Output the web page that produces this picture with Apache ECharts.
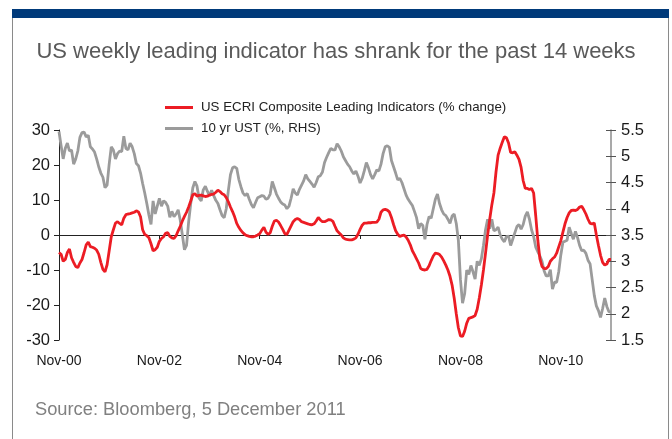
<!DOCTYPE html>
<html>
<head>
<meta charset="utf-8">
<script src="https://cdn.jsdelivr.net/npm/echarts@6/dist/echarts.min.js"></script>
<style>
  html, body { margin: 0; padding: 0; background: #fff; }
  #chart { width: 672px; height: 439px; }
</style>
</head>
<body>
<div id="chart"></div>
<script>
// Half-monthly observations, Nov 2000 to Nov 2011
const monthNames = ['Jan','Feb','Mar','Apr','May','Jun','Jul','Aug','Sep','Oct','Nov','Dec'];
const categories = [];
for (let k = 0; k <= 264; k++) {
  const m = 10 + Math.floor(k / 2);
  const yr = 2000 + Math.floor(m / 12);
  const label = monthNames[m % 12] + '-' + String(yr % 100).padStart(2, '0');
  categories.push(k % 2 === 0 ? label : label + ' (mid)');
}

const tickLabels = ['Nov-00', 'Nov-02', 'Nov-04', 'Nov-06', 'Nov-08', 'Nov-10'];

// ECRI weekly leading index, % change (left axis)
const ecriGrowth = [
  -5, -5.5, -7.5, -7, -5, -4, -6.5, -7.8, -9, -9.3,
  -8, -7, -5, -2.8, -2, -3.3, -3.5, -3.8, -4.3, -5.5,
  -7.8, -9.8, -10.5, -8.5, -4.5, -0.5, 1.5, 3.4, 3.8, 3.3,
  2.9, 4.8, 5.8, 6, 6.1, 6.3, 6.5, 6.9, 6.6, 5.2,
  1.5, 0.2, -0.2, -0.8, -2.5, -4.5, -4.2, -3.5, -1.8, -1,
  -0.5, 0.5, 0.7, -0.4, -0.8, -1, -0.2, 1.2, 2.5, 4,
  5.3, 6.5, 8, 9.7, 11.5, 11.8, 11.1, 11.3, 11.4, 11.2,
  11, 11.1, 11.4, 11.6, 11.7, 12.2, 12.8, 12.4, 11.8, 11.5,
  10.7, 9.5, 8, 6.7, 5.2, 3.3, 2.2, 1.3, 0.6, 0.1,
  -0.2, -0.4, -0.5, -0.5, -0.3, 0, 0.4, 1.4, 2.2, 0.8,
  0.2, 0.6, 2.5, 4, 4.2, 3.7, 2.7, 1.6, 0.4, 0.2,
  1.4, 2.6, 3.8, 4.4, 4.7, 4.4, 3.8, 3.6, 3.4, 3.2,
  3, 2.9, 3.2, 4, 5, 4.3, 3.8, 3.8, 4.1, 4.4,
  4.3, 3.9, 2.5, 1.2, 0.6, 0, -0.8, -1.2, -1.3, -1.4,
  -1.4, -1.2, -0.8, 0.2, 1.6, 2.8, 3.4, 3.4, 3.5, 3.5,
  3.6, 3.6, 3.7, 4.5, 6.5, 7.2, 7.3, 7.1, 6.6, 5,
  3, 1.2, 0.2, -0.4, -0.2, 0, -0.6, -1.5, -2.8, -4.5,
  -5.6, -6.8, -8, -9.6, -9.9, -10, -9.8, -8.8, -7.3, -6,
  -5.2, -5.3, -5.6, -6.3, -7.4, -8.6, -10, -11.8, -14.3, -18,
  -22.5, -26.5, -28.8, -29, -27.5, -25.2, -23.8, -23.6, -23.4, -23,
  -21.2, -18, -14.3, -10, -5.2, 0, 4.5, 8.6, 12, 18,
  22.8, 24.8, 26.5, 28.1, 27.8, 26.3, 23.6, 23.5, 23.8, 22.8,
  21.6, 19.3, 15.5, 13.3, 13.3, 13, 13.3, 12, 5.5, -1.5,
  -6.8, -9, -9.6, -9.6, -9, -7.5, -6.8, -6.3, -5.2, -3.4,
  -1.6, 0.8, 3.2, 5, 6.3, 7, 7.1, 7, 7.3, 8,
  8.2, 7.2, 6, 4.5, 3.3, 3.2, 3.4, 0, -3, -5.8,
  -7.8, -8.6, -8.3, -7, -7
];

// 10-year US Treasury yield, % (right axis)
const ustYield = [
  5.47, 5.2, 4.95, 5.15, 5.25, 5.1, 5.12, 4.85, 4.95, 5.1,
  5.36, 5.45, 5.46, 5.37, 5.4, 5.18, 5.14, 5.08, 4.95, 4.8,
  4.68, 4.6, 4.4, 4.45, 4.85, 5.18, 5.12, 4.95, 5.05, 5.1,
  5.09, 5.38, 5.15, 5.12, 5.25, 5.18, 5.05, 4.86, 4.82, 4.68,
  4.48, 4.3, 4.1, 3.88, 3.7, 4.15, 3.9, 4.05, 4.2, 4.05,
  4.15, 4.12, 4.05, 3.84, 3.95, 3.85, 3.9, 3.98, 3.78, 3.5,
  3.22, 3.3, 3.75, 4.1, 4.4, 4.52, 4.43, 4.2, 4.15, 4.36,
  4.43, 4.33, 4.25, 4.35, 4.25, 4.16, 4.1, 3.98, 3.87, 3.83,
  4.0, 4.35, 4.65, 4.78, 4.8, 4.77, 4.56, 4.42, 4.3, 4.25,
  4.29, 4.18, 4.08, 4.02, 4.12, 4.21, 4.23, 4.25, 4.24, 4.18,
  4.2, 4.28, 4.52, 4.4, 4.28, 4.2, 4.13, 4.09, 4.07, 4.0,
  4.05, 4.2, 4.38, 4.3, 4.26, 4.37, 4.45, 4.53, 4.65, 4.57,
  4.52, 4.47, 4.41, 4.5, 4.61, 4.63, 4.7, 4.88, 4.98, 5.07,
  5.15, 5.12, 5.12, 5.24, 5.18, 5.1, 4.99, 4.92, 4.85, 4.8,
  4.72, 4.66, 4.72, 4.62, 4.49, 4.58, 4.72, 4.88, 4.78, 4.65,
  4.57, 4.65, 4.74, 4.72, 4.85, 5.05, 5.18, 5.2, 5.17, 4.92,
  4.8, 4.68, 4.55, 4.58, 4.5, 4.38, 4.26, 4.18, 4.12, 4.06,
  3.95, 3.83, 3.62, 3.72, 3.68, 3.42, 3.7, 3.85, 3.82, 4.0,
  4.18, 4.28, 4.1, 3.98, 3.9, 3.87, 3.8, 3.72, 3.86, 3.9,
  3.72, 3.4, 2.65, 2.2, 2.38, 2.83, 2.75, 2.92, 2.8, 2.66,
  3.0, 2.92, 3.05, 3.3, 3.6, 3.8, 3.62, 3.8, 3.58, 3.6,
  3.65, 3.5, 3.42, 3.37, 3.47, 3.48, 3.3, 3.42, 3.54, 3.66,
  3.7, 3.61, 3.7, 3.86, 3.94, 3.8, 3.6, 3.47, 3.27, 3.18,
  3.1, 3.0, 2.82, 2.72, 2.72, 2.84, 2.47, 2.6, 2.6, 2.8,
  3.12, 3.36, 3.38, 3.4, 3.65, 3.53, 3.42, 3.57, 3.45, 3.3,
  3.2, 3.21, 3.15, 3.02, 2.95, 2.65, 2.35, 2.15, 2.06, 1.93,
  2.1, 2.3, 2.14, 2.04, 2.03
];

const RED = '#ec1c24';
const GREY = '#9b9b9b';
const FONT = '"Liberation Sans", Arial, Helvetica, sans-serif';
const LABEL_STEP = 48; // two years of half-monthly points

const chart = echarts.init(document.getElementById('chart'), null, { renderer: 'canvas' });

chart.setOption({
  backgroundColor: '#ffffff',
  animation: false,
  textStyle: { fontFamily: FONT },
  title: [
    {
      text: 'US weekly leading indicator has shrank for the past 14 weeks',
      left: 'center',
      top: 36,
      textStyle: { fontFamily: FONT, fontSize: 22, fontWeight: 'normal', color: '#5a5a5a' }
    },
    {
      text: 'Source: Bloomberg, 5 December 2011',
      left: 30,
      top: 396,
      textStyle: { fontFamily: FONT, fontSize: 18.3, fontWeight: 'normal', color: '#808080' }
    }
  ],
  legend: {
    orient: 'vertical',
    left: 160,
    top: 96,
    itemGap: 8,
    itemWidth: 28,
    itemHeight: 3,
    icon: 'rect',
    textStyle: { fontFamily: FONT, fontSize: 13.3, color: '#222', padding: [0, 0, 0, 3] },
    data: ['US ECRI Composite Leading Indicators (% change)', '10 yr UST (%, RHS)']
  },
  graphic: [
    { type: 'rect', shape: { x: 12, y: 9, width: 657, height: 9 }, style: { fill: '#003a7a' }, silent: true },
    { type: 'line', shape: { x1: 12.5, y1: 18, x2: 12.5, y2: 439 }, style: { stroke: '#8a8a8a', lineWidth: 1 }, silent: true },
    { type: 'line', shape: { x1: 668.5, y1: 18, x2: 668.5, y2: 439 }, style: { stroke: '#8a8a8a', lineWidth: 1 }, silent: true }
  ],
  grid: { left: 59, right: 61, top: 130, bottom: 99, containLabel: false },
  xAxis: [
    {
      type: 'category',
      data: categories,
      boundaryGap: false,
      axisLine: { show: true, onZero: true, onZeroAxisIndex: 0, lineStyle: { color: '#222', width: 1 } },
      axisTick: { show: true, interval: LABEL_STEP - 1, length: 4, lineStyle: { color: '#222' } },
      axisLabel: { show: false },
      splitLine: { show: false }
    },
    {
      type: 'category',
      data: categories,
      boundaryGap: false,
      position: 'bottom',
      axisLine: { show: false, onZero: false },
      axisTick: { show: false },
      axisLabel: {
        show: true,
        interval: LABEL_STEP - 1,
        margin: 14,
        fontFamily: FONT,
        fontSize: 14,
        color: '#1a1a1a',
        formatter: (v, idx) => tickLabels[Math.round(idx / LABEL_STEP)] || ''
      },
      splitLine: { show: false }
    }
  ],
  yAxis: [
    {
      type: 'value',
      position: 'left',
      min: -30,
      max: 30,
      interval: 10,
      axisLine: { show: true, lineStyle: { color: '#222', width: 1 } },
      axisTick: { show: true, length: 5, lineStyle: { color: '#222' } },
      axisLabel: { margin: 9, fontFamily: FONT, fontSize: 16.5, color: '#1a1a1a' },
      splitLine: { show: false }
    },
    {
      type: 'value',
      position: 'right',
      min: 1.5,
      max: 5.5,
      interval: 0.5,
      axisLine: { show: true, lineStyle: { color: '#8c8c8c', width: 1.5 } },
      axisTick: { show: true, length: 5, lineStyle: { color: '#555' } },
      axisLabel: { margin: 10, fontFamily: FONT, fontSize: 16.5, color: '#1a1a1a' },
      splitLine: { show: false }
    },
    {
      // inner half of the right-hand ticks
      type: 'value',
      position: 'right',
      min: 1.5,
      max: 5.5,
      interval: 0.5,
      axisLine: { show: false },
      axisTick: { show: true, inside: true, length: 5, lineStyle: { color: '#555' } },
      axisLabel: { show: false },
      splitLine: { show: false }
    }
  ],
  series: [
    {
      name: 'US ECRI Composite Leading Indicators (% change)',
      type: 'line',
      xAxisIndex: 0,
      yAxisIndex: 0,
      data: ecriGrowth,
      symbol: 'none',
      lineStyle: { color: RED, width: 2.8 },
      itemStyle: { color: RED },
      z: 3
    },
    {
      name: '10 yr UST (%, RHS)',
      type: 'line',
      xAxisIndex: 0,
      yAxisIndex: 1,
      data: ustYield,
      symbol: 'none',
      lineStyle: { color: GREY, width: 2.8 },
      itemStyle: { color: GREY },
      z: 2
    }
  ]
});
</script>
</body>
</html>
